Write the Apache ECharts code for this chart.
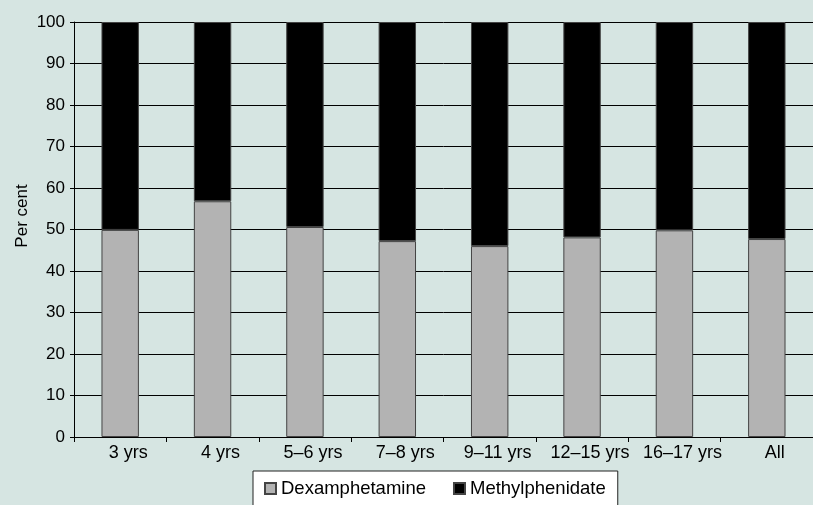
<!DOCTYPE html>
<html>
<head>
<meta charset="utf-8">
<script src="https://cdn.jsdelivr.net/npm/echarts@6/dist/echarts.min.js"></script>
<style>
html,body{margin:0;padding:0;background:#d6e5e2;}
#chart{width:813px;height:505px;}
</style>
</head>
<body>
<div id="chart"></div>
<script>
const categories = ['3 yrs','4 yrs','5–6 yrs','7–8 yrs','9–11 yrs','12–15 yrs','16–17 yrs','All'];
const dexamphetamine = [49.9, 56.8, 50.6, 47.2, 46.0, 48.1, 49.8, 47.7];
const methylphenidate = [50.1, 43.2, 49.4, 52.8, 54.0, 51.9, 50.2, 52.3];
const yTicks = {min:0, max:100, interval:10};
const yTitle = 'Per cent';

const font = 'Liberation Sans, Arial, sans-serif';
const chart = echarts.init(document.getElementById('chart'));
chart.setOption({
  backgroundColor:'#d6e5e2',
  animation:false,
  textStyle:{fontFamily:font,color:'#000'},
  grid:{left:74,top:22,bottom:68,right:-11,containLabel:false},
  graphic:[{
    type:'text', x:22.5, y:216, rotation:Math.PI/2,
    style:{text:yTitle, font:'17px '+font, fill:'#000', align:'center', verticalAlign:'middle'}
  }],
  legend:{
    left:253, top:471,
    backgroundColor:'#fff', borderColor:'#222', borderWidth:1,
    padding:[8,12,20,11],
    icon:'rect',
    itemWidth:11, itemHeight:11, itemGap:27,
    textStyle:{fontFamily:font,fontSize:18.5,color:'#000'},
    data:['Dexamphetamine','Methylphenidate']
  },
  xAxis:{
    type:'category', data:categories,
    axisLine:{lineStyle:{color:'#000',width:1}},
    axisTick:{show:true,length:5,lineStyle:{color:'#000'}},
    axisLabel:{fontFamily:font,fontSize:18,color:'#000',margin:7,interval:0,padding:[0,0,0,16]}
  },
  yAxis:{
    type:'value', min:yTicks.min, max:yTicks.max, interval:yTicks.interval,
    axisLine:{show:true,lineStyle:{color:'#000',width:1}},
    axisTick:{show:true,length:4,lineStyle:{color:'#000'}},
    axisLabel:{fontFamily:font,fontSize:17,color:'#000',margin:9},
    splitLine:{show:true,lineStyle:{color:'#000',width:1}}
  },
  series:[
    {name:'Dexamphetamine',type:'bar',stack:'a',data:dexamphetamine,barWidth:'40.5%',
     itemStyle:{color:'#b3b3b3',borderColor:'#444',borderWidth:1}},
    {name:'Methylphenidate',type:'bar',stack:'a',data:methylphenidate,barWidth:'40.5%',
     itemStyle:{color:'#000',borderColor:'#444',borderWidth:1}}
  ]
});
</script>
</body>
</html>
